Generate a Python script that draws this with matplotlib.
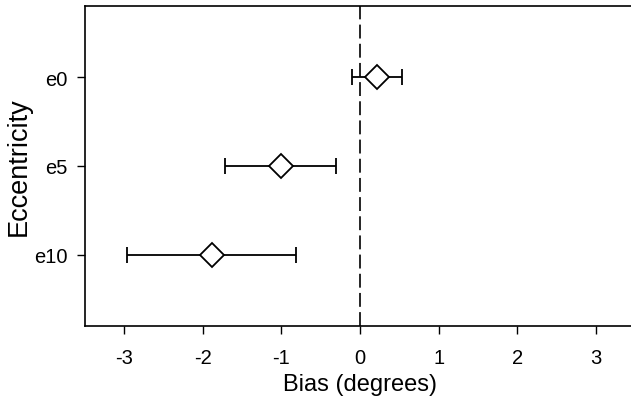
import matplotlib
matplotlib.use("Agg")
import matplotlib.pyplot as plt

plt.rcParams['font.family'] = ['Liberation Sans', 'DejaVu Sans']
plt.rcParams['lines.scale_dashes'] = False

categories = ["e10", "e5", "e0"]
bias_mean = [-1.89, -1.01, 0.21]
ci_low = [-2.96, -1.72, -0.105]
ci_high = [-0.81, -0.30, 0.53]
x_ticks = [-3, -2, -1, 0, 1, 2, 3]

fig = plt.figure(figsize=(6.31, 4.02), dpi=100)
ax = fig.add_axes([85/631, (402-327)/402, (635-85)/631, (327-7)/402])

ypos = list(range(1, len(categories) + 1))
xerr = [[m - l for m, l in zip(bias_mean, ci_low)],
        [h - m for m, h in zip(bias_mean, ci_high)]]

ax.axvline(0, color='black', lw=1.2, dashes=[10, 3.8], zorder=1)
ax.errorbar(bias_mean, ypos, xerr=xerr, fmt='D', ms=12.5, mfc='white', mec='black',
            mew=1.3, ecolor='black', elinewidth=1.3, capsize=5.8, capthick=1.3,
            color='black', zorder=3)

ax.set_xlim(-3.5, 3.5)
ax.set_ylim(0.2, 3.8)
ax.set_xticks(x_ticks)
ax.set_xticklabels([str(t) for t in x_ticks])
ax.set_yticks(ypos)
ax.set_yticklabels(categories)
ax.tick_params(direction='out', length=6, width=1, labelsize=14.5)
ax.tick_params(axis='x', pad=10)
ax.tick_params(axis='y', pad=6.5)
for s in ax.spines.values():
    s.set_linewidth(1.2)

ax.set_xlabel("Bias (degrees)", fontsize=17, labelpad=4.5)
ax.set_ylabel("Eccentricity", fontsize=19.5, labelpad=2)

fig.savefig("out.png", dpi=100)
